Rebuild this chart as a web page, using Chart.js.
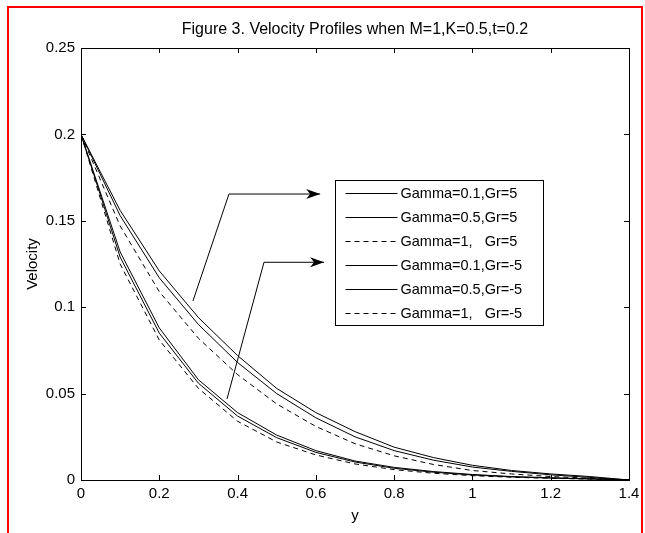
<!DOCTYPE html>
<html>
<head>
<meta charset="utf-8">
<script src="https://cdn.jsdelivr.net/npm/chart.js@4.4.1/dist/chart.umd.min.js"></script>
<style>
  body { margin: 0; background: #fff; }
  #wrap { position: relative; width: 645px; height: 533px; overflow: hidden; }
  #frame { position: absolute; left: 7px; top: 6px; width: 632px; height: 560px; border: 2px solid #f00; pointer-events: none; }
</style>
</head>
<body>
<div id="wrap">
  <canvas id="velocityChart" width="645" height="533"></canvas>
  <div id="frame"></div>
</div>
<script>
// Valores (y de 0 a 1.4, paso 0.1)
const yPos = [0, 0.1, 0.2, 0.3, 0.4, 0.5, 0.6, 0.7, 0.8, 0.9, 1.0, 1.1, 1.2, 1.3, 1.4];

const g01Gr5  = [0.2, 0.156, 0.121, 0.094, 0.072, 0.053, 0.039, 0.028, 0.019, 0.013, 0.0085, 0.0055, 0.0035, 0.002, 0];
const g05Gr5  = [0.2, 0.153, 0.117, 0.090, 0.068, 0.050, 0.036, 0.025, 0.017, 0.0115, 0.0075, 0.005, 0.003, 0.0015, 0];
const g1Gr5   = [0.2, 0.147, 0.109, 0.082, 0.061, 0.044, 0.031, 0.021, 0.014, 0.009, 0.0055, 0.0035, 0.002, 0.001, 0];
const g01GrM5 = [0.2, 0.132, 0.088, 0.058, 0.039, 0.026, 0.017, 0.011, 0.0073, 0.0049, 0.0032, 0.002, 0.0013, 0.0007, 0];
const g05GrM5 = [0.2, 0.129, 0.085, 0.056, 0.037, 0.0245, 0.016, 0.0104, 0.0068, 0.0045, 0.0029, 0.0018, 0.0011, 0.0006, 0];
const g1GrM5  = [0.2, 0.125, 0.081, 0.053, 0.034, 0.022, 0.0145, 0.0093, 0.006, 0.0039, 0.0025, 0.0016, 0.001, 0.0005, 0];

const seriesNames = ['Gamma=0.1,Gr=5', 'Gamma=0.5,Gr=5', 'Gamma=1,   Gr=5',
                     'Gamma=0.1,Gr=-5', 'Gamma=0.5,Gr=-5', 'Gamma=1,   Gr=-5'];
const seriesValues = [g01Gr5, g05Gr5, g1Gr5, g01GrM5, g05GrM5, g1GrM5];
const seriesDashed = [false, false, true, false, false, true];

const xTicks = [0, 0.2, 0.4, 0.6, 0.8, 1.0, 1.2, 1.4];
const yTicks = [0, 0.05, 0.1, 0.15, 0.2, 0.25];

const chartTitle = 'Figure 3. Velocity Profiles when M=1,K=0.5,t=0.2';

// Flechas que señalan cada grupo (en coordenadas de datos)
const arrowUpper = [[0.286, 0.1036], [0.378, 0.1655], [0.611, 0.1655]];
const arrowLower = [[0.373, 0.0469], [0.4675, 0.126], [0.621, 0.126]];
// Caja de la leyenda (coordenadas de datos)
const legendBox = { x0: 0.649, x1: 1.18, y0: 0.1736, y1: 0.0897 };

const FONT = '"Liberation Sans", Arial, sans-serif';

const datasets = seriesNames.map((name, i) => ({
    label: name,
    data: yPos.map((x, j) => ({ x: x, y: seriesValues[i][j] })),
    borderColor: '#000',
    borderWidth: 1,
    borderDash: seriesDashed[i] ? [5, 4] : [],
    pointRadius: 0,
    tension: 0,
    fill: false
}));

function drawArrow(ctx, xs, ys, pts) {
    ctx.save();
    ctx.strokeStyle = '#000';
    ctx.lineWidth = 1;
    ctx.beginPath();
    pts.forEach((p, i) => {
        const px = xs.getPixelForValue(p[0]);
        const py = ys.getPixelForValue(p[1]);
        if (i === 0) ctx.moveTo(px, py); else ctx.lineTo(px, py);
    });
    ctx.stroke();
    // punta de flecha
    const tip = pts[pts.length - 1];
    const tx = xs.getPixelForValue(tip[0]);
    const ty = ys.getPixelForValue(tip[1]);
    ctx.fillStyle = '#000';
    ctx.beginPath();
    ctx.moveTo(tx, ty);
    ctx.lineTo(tx - 14, ty - 5);
    ctx.lineTo(tx - 10, ty);
    ctx.lineTo(tx - 14, ty + 5);
    ctx.closePath();
    ctx.fill();
    ctx.restore();
}

const framePlugin = {
    id: 'framePlugin',
    afterDraw(chart) {
        const ctx = chart.ctx;
        const a = chart.chartArea;
        const xs = chart.scales.x;
        const ys = chart.scales.y;

        // título
        ctx.save();
        ctx.fillStyle = '#000';
        ctx.font = '16px ' + FONT;
        ctx.textAlign = 'center';
        ctx.textBaseline = 'middle';
        ctx.fillText(chartTitle, (a.left + a.right) / 2, 30);
        ctx.restore();

        // marco y marcas hacia dentro
        ctx.save();
        ctx.strokeStyle = '#000';
        ctx.lineWidth = 1;
        ctx.strokeRect(Math.round(a.left) + 0.5, Math.round(a.top) + 0.5,
                       Math.round(a.right - a.left), Math.round(a.bottom - a.top));
        ctx.beginPath();
        xTicks.forEach(v => {
            const px = Math.round(xs.getPixelForValue(v)) + 0.5;
            ctx.moveTo(px, a.bottom); ctx.lineTo(px, a.bottom - 5);
            ctx.moveTo(px, a.top); ctx.lineTo(px, a.top + 5);
        });
        yTicks.forEach(v => {
            const py = Math.round(ys.getPixelForValue(v)) + 0.5;
            ctx.moveTo(a.left, py); ctx.lineTo(a.left + 5, py);
            ctx.moveTo(a.right, py); ctx.lineTo(a.right - 5, py);
        });
        ctx.stroke();
        ctx.restore();

        drawArrow(ctx, xs, ys, arrowUpper);
        drawArrow(ctx, xs, ys, arrowLower);

        // leyenda
        const lx0 = Math.round(xs.getPixelForValue(legendBox.x0)) + 0.5;
        const lx1 = Math.round(xs.getPixelForValue(legendBox.x1)) + 0.5;
        const ly0 = Math.round(ys.getPixelForValue(legendBox.y0)) + 0.5;
        const ly1 = Math.round(ys.getPixelForValue(legendBox.y1)) + 0.5;
        ctx.save();
        ctx.fillStyle = '#fff';
        ctx.fillRect(lx0, ly0, lx1 - lx0, ly1 - ly0);
        ctx.strokeStyle = '#000';
        ctx.lineWidth = 1;
        ctx.strokeRect(lx0, ly0, lx1 - lx0, ly1 - ly0);
        ctx.font = '14.5px ' + FONT;
        ctx.textBaseline = 'middle';
        ctx.fillStyle = '#000';
        const rowH = (ly1 - ly0) / seriesNames.length;
        seriesNames.forEach((name, i) => {
            const ry = Math.round(ly0 + rowH * (i + 0.5)) + 0.5;
            ctx.setLineDash(seriesDashed[i] ? [5, 4] : []);
            ctx.beginPath();
            ctx.moveTo(lx0 + 10, ry);
            ctx.lineTo(lx0 + 62, ry);
            ctx.stroke();
            ctx.fillText(name, lx0 + 65, ry);
        });
        ctx.restore();
    }
};

const config = {
    type: 'line',
    data: { datasets: datasets },
    options: {
        responsive: false,
        animation: false,
        layout: { padding: { top: 48, right: 16, left: 0, bottom: 0 } },
        plugins: {
            legend: { display: false },
            tooltip: { enabled: false },
            title: { display: false }
        },
        scales: {
            x: {
                type: 'linear',
                min: 0,
                max: 1.4,
                grid: { display: false, drawTicks: false },
                border: { display: false },
                afterBuildTicks: s => { s.ticks = xTicks.map(v => ({ value: v })); },
                afterFit: s => { s.height = 53; },
                ticks: {
                    color: '#000',
                    padding: 5,
                    font: { family: FONT, size: 15 },
                    callback: v => String(Number(v.toFixed(2)))
                },
                title: {
                    display: true,
                    text: 'y',
                    color: '#000',
                    font: { family: FONT, size: 15 },
                    padding: { top: 0, bottom: 8 }
                }
            },
            y: {
                type: 'linear',
                min: 0,
                max: 0.25,
                grid: { display: false, drawTicks: false },
                border: { display: false },
                afterBuildTicks: s => { s.ticks = yTicks.map(v => ({ value: v })); },
                afterFit: s => { s.width = 81; },
                ticks: {
                    color: '#000',
                    padding: 6,
                    font: { family: FONT, size: 15 },
                    callback: v => String(Number(v.toFixed(2)))
                },
                title: {
                    display: true,
                    text: 'Velocity',
                    color: '#000',
                    font: { family: FONT, size: 15 },
                    padding: { top: 24, bottom: 0 }
                }
            }
        }
    },
    plugins: [framePlugin]
};

const ctx = document.getElementById('velocityChart').getContext('2d');
new Chart(ctx, config);
</script>
</body>
</html>
